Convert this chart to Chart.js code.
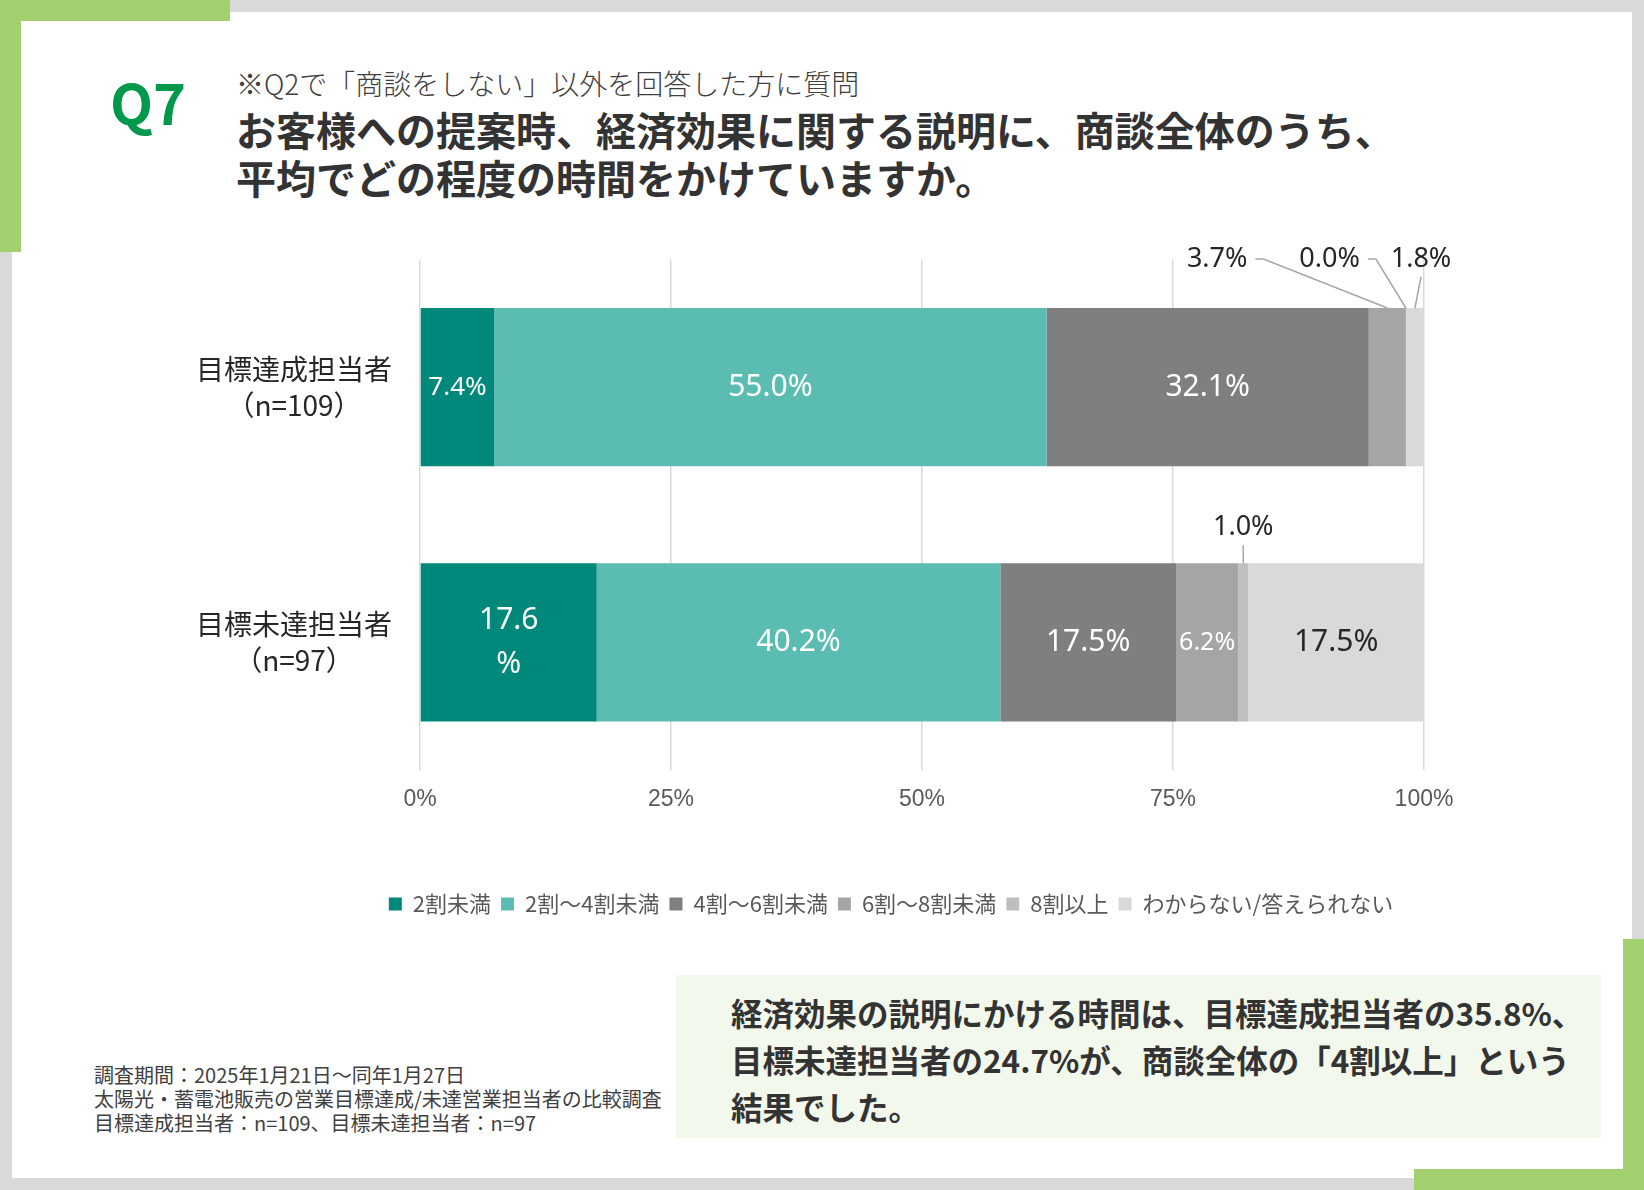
<!DOCTYPE html>
<html lang="ja">
<head>
<meta charset="utf-8">
<script src="https://cdn.jsdelivr.net/npm/chart.js@4.4.1/dist/chart.umd.min.js"></script>
<style>
  html, body { margin: 0; padding: 0; }
  body {
    width: 1644px; height: 1190px; position: relative; overflow: hidden;
    background: #d9d9d9; font-family: "Noto Sans CJK JP", sans-serif;
  }
  .panel { position: absolute; left: 12px; top: 12px; width: 1620px; height: 1166px; background: #fff; }
  .green { position: absolute; background: #a2d06f; }
  .txt { position: absolute; white-space: nowrap; }
  #q { left: 110px; top: 70px; font-size: 56px; line-height: 62px; font-weight: 700; color: #00984a; }
  #sub { left: 236px; top: 65px; font-size: 28px; line-height: 36px; font-weight: 300; color: #404040; }
  #title { left: 236px; top: 105px; font-size: 40px; line-height: 48px; font-weight: 700; color: #333; }
  #note { left: 94px; top: 1063px; font-size: 20px; line-height: 24px; color: #404040; }
  #summary {
    position: absolute; left: 676px; top: 975px; width: 925px; height: 163px;
    background: #f3f8ec; box-sizing: border-box; padding: 14px 0 0 55px;
    font-size: 31.5px; line-height: 47px; font-weight: 700; color: #333; white-space: nowrap;
  }
  #chart { position: absolute; left: 0; top: 200px; }
</style>
</head>
<body>
<div class="panel"></div>
<div class="green" style="left:0;top:0;width:230px;height:21px"></div>
<div class="green" style="left:0;top:0;width:21px;height:252px"></div>
<div class="green" style="left:1623px;top:939px;width:21px;height:251px"></div>
<div class="green" style="left:1414px;top:1169px;width:230px;height:21px"></div>

<div class="txt" id="q">Q7</div>
<div class="txt" id="sub">※Q2で「商談をしない」以外を回答した方に質問</div>
<div class="txt" id="title">お客様への提案時、経済効果に関する説明に、商談全体のうち、<br>平均でどの程度の時間をかけていますか。</div>

<canvas id="chart" width="1644" height="740"></canvas>

<div class="txt" id="note">調査期間：2025年1月21日～同年1月27日<br>太陽光・蓄電池販売の営業目標達成/未達営業担当者の比較調査<br>目標達成担当者：n=109、目標未達担当者：n=97</div>
<div id="summary">経済効果の説明にかける時間は、目標達成担当者の35.8%、<br>目標未達担当者の24.7%が、商談全体の「4割以上」という<br>結果でした。</div>

<script>
// categories (two lines each)
const categories = [['目標達成担当者', '（n=109）'], ['目標未達担当者', '（n=97）']];
const seriesNames = ['2割未満', '2割～4割未満', '4割～6割未満', '6割～8割未満', '8割以上', 'わからない/答えられない'];

// % values, [目標達成, 目標未達]
const under20 = [7.4, 17.6];
const from20to40 = [55.0, 40.2];
const from40to60 = [32.1, 17.5];
const from60to80 = [3.7, 6.2];
const over80 = [0.0, 1.0];
const unknown = [1.8, 17.5];

const xTicks = [0, 25, 50, 75, 100];

const colors = ['#00897a', '#5bbcb2', '#7f7f7f', '#a5a5a5', '#bfbfbf', '#d9d9d9'];

// label placement: small segments get a callout above the bar
const callouts = {
    '3-0': { lx: 79.4, dy: -49, elbow: true },
    '4-0': { lx: 90.6, dy: -49, elbow: true },
    '5-0': { lx: 99.7, dy: -49 },
    '4-1': { lx: null, dy: -36 }
};
const smallFont = { '0-0': 26, '3-1': 25 };
const darkInside = { '5-1': true };
const wrapped = { '0-1': true };

let barLabels = {
    id: 'barLabels',
    afterDatasetsDraw(chart) {
        const ctx = chart.ctx;
        const xs = chart.scales.x;
        ctx.save();
        ctx.textAlign = 'center';
        ctx.textBaseline = 'middle';
        chart.data.datasets.forEach((ds, d) => {
            const meta = chart.getDatasetMeta(d);
            meta.data.forEach((el, i) => {
                const key = d + '-' + i;
                const p = el.getProps(['x', 'base', 'y', 'height'], true);
                const cx = (p.x + p.base) / 2;
                const top = p.y - p.height / 2;
                const text = ds.data[i].toFixed(1) + '%';
                const c = callouts[key];
                if (c) {
                    const lx = c.lx == null ? cx : xs.getPixelForValue(c.lx);
                    const ly = top + c.dy;
                    ctx.font = '27px "Noto Sans", sans-serif';
                    ctx.fillStyle = '#262626';
                    ctx.fillText(text, lx, ly);
                    ctx.strokeStyle = '#a6a6a6';
                    ctx.lineWidth = 1.5;
                    ctx.beginPath();
                    if (c.elbow) {
                        const sx = lx + ctx.measureText(text).width / 2 + 8;
                        ctx.moveTo(sx, ly);
                        ctx.lineTo(sx + 8, ly);
                    } else {
                        ctx.moveTo(lx, ly + 18);
                    }
                    ctx.lineTo(cx, top);
                    ctx.stroke();
                    return;
                }
                ctx.font = (smallFont[key] || 30) + 'px "Noto Sans", sans-serif';
                ctx.fillStyle = darkInside[key] ? '#262626' : '#ffffff';
                if (wrapped[key]) {
                    ctx.fillText(text.slice(0, -1), cx, p.y - 22);
                    ctx.fillText('%', cx, p.y + 22);
                } else {
                    ctx.fillText(text, cx, p.y);
                }
            });
        });
        ctx.restore();
    }
};

const seriesValues = [under20, from20to40, from40to60, from60to80, over80, unknown];

var ctx = document.getElementById('chart').getContext('2d');
var chart = new Chart(ctx, {
    type: 'bar',
    data: {
        labels: categories,
        datasets: seriesValues.map((vals, k) => ({
            label: seriesNames[k],
            data: vals,
            backgroundColor: colors[k],
            borderWidth: 0,
            categoryPercentage: 1,
            barPercentage: 0.62
        }))
    },
    options: {
        indexAxis: 'y',
        responsive: false,
        animation: false,
        layout: { padding: { left: 190, right: 52, top: 59.5, bottom: 15 } },
        scales: {
            x: {
                stacked: true,
                min: 0,
                max: 100,
                afterBuildTicks: s => { s.ticks = xTicks.map(v => ({ value: v })); },
                afterFit: s => { s.height = 113; },
                grid: { color: '#d9d9d9', lineWidth: 1.5, drawTicks: false },
                border: { display: false },
                ticks: {
                    callback: v => v + '%',
                    color: '#595959',
                    padding: 16,
                    font: { family: '"Liberation Sans", Arial, sans-serif', size: 23 }
                }
            },
            y: {
                stacked: true,
                afterFit: s => { s.width = 230; },
                grid: { display: false },
                border: { display: false },
                ticks: {
                    crossAlign: 'center',
                    padding: 20,
                    color: '#262626',
                    font: { family: '"Noto Sans CJK JP", sans-serif', size: 28, lineHeight: 1.3 }
                }
            },
            // empty right margin of the chart object, keeps the legend centred like the original
            yMargin: {
                type: 'linear',
                position: 'right',
                afterFit: s => { s.width = 168; },
                grid: { display: false },
                border: { display: false },
                ticks: { display: false }
            }
        },
        plugins: {
            tooltip: { enabled: false },
            legend: {
                position: 'bottom',
                labels: {
                    color: '#595959',
                    boxWidth: 13,
                    boxHeight: 13,
                    padding: 10,
                    font: { family: '"Noto Sans CJK JP", sans-serif', size: 22 }
                }
            }
        }
    },
    plugins: [barLabels]
});
</script>
</body>
</html>
